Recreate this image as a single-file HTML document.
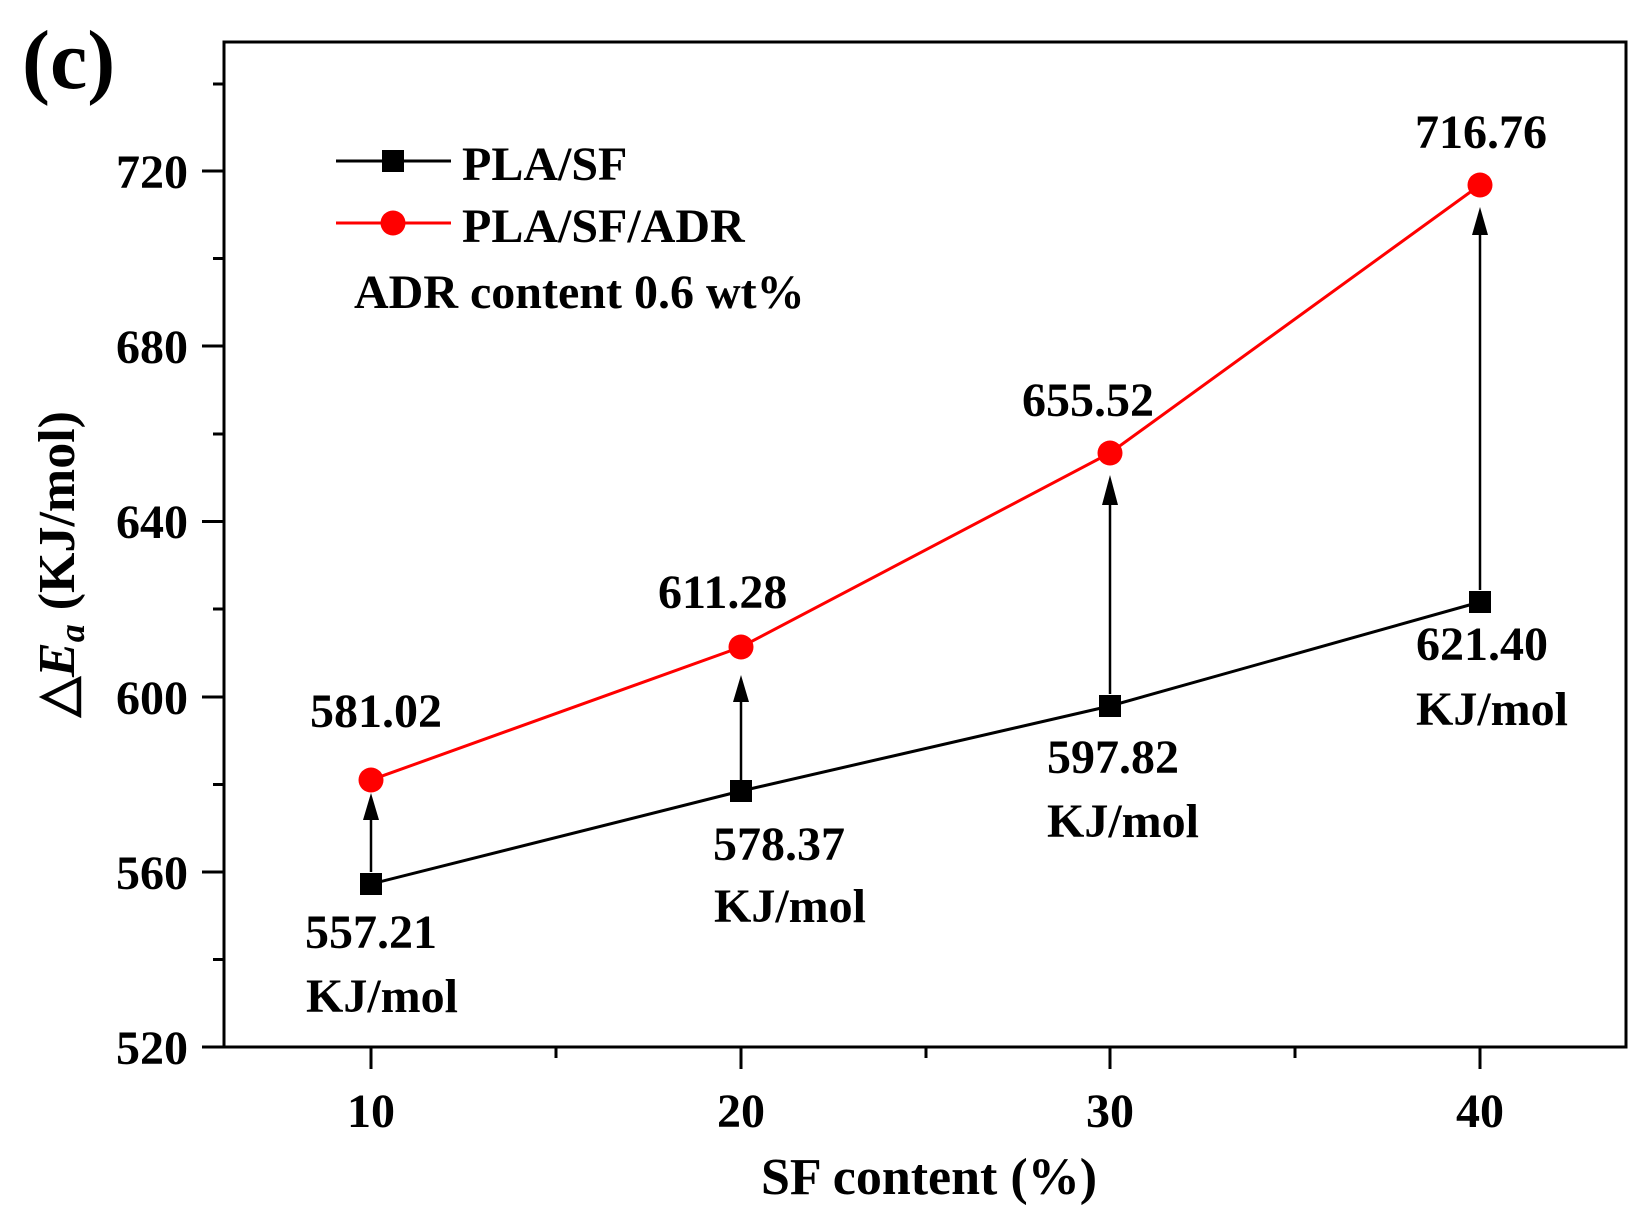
<!DOCTYPE html>
<html><head><meta charset="utf-8"><style>
html,body{margin:0;padding:0;background:#fff;}
svg{display:block;font-family:"Liberation Serif",serif;font-weight:bold;}
</style></head><body>
<svg width="1650" height="1222" viewBox="0 0 1650 1222" xmlns="http://www.w3.org/2000/svg">
<rect width="1650" height="1222" fill="#fff"/>
<text x="22" y="88" font-size="84">(c)</text>
<rect x="224" y="42" width="1402" height="1005" fill="none" stroke="#000" stroke-width="3"/>
<g stroke="#000" stroke-width="3">
<line x1="202" y1="1047" x2="224" y2="1047"/>
<line x1="202" y1="872" x2="224" y2="872"/>
<line x1="202" y1="697" x2="224" y2="697"/>
<line x1="202" y1="521.5" x2="224" y2="521.5"/>
<line x1="202" y1="346" x2="224" y2="346"/>
<line x1="202" y1="171" x2="224" y2="171"/>
<line x1="213" y1="959.5" x2="224" y2="959.5"/>
<line x1="213" y1="784.5" x2="224" y2="784.5"/>
<line x1="213" y1="609" x2="224" y2="609"/>
<line x1="213" y1="434" x2="224" y2="434"/>
<line x1="213" y1="258.5" x2="224" y2="258.5"/>
<line x1="213" y1="84" x2="224" y2="84"/>
<line x1="371" y1="1047" x2="371" y2="1069"/>
<line x1="741" y1="1047" x2="741" y2="1069"/>
<line x1="1110" y1="1047" x2="1110" y2="1069"/>
<line x1="1480" y1="1047" x2="1480" y2="1069"/>
<line x1="556" y1="1047" x2="556" y2="1058"/>
<line x1="926" y1="1047" x2="926" y2="1058"/>
<line x1="1295" y1="1047" x2="1295" y2="1058"/>
</g>
<g font-size="48" text-anchor="end">
<text x="188" y="1064">520</text>
<text x="188" y="889">560</text>
<text x="188" y="714">600</text>
<text x="188" y="538">640</text>
<text x="188" y="363">680</text>
<text x="188" y="188">720</text>
</g>
<g font-size="48" text-anchor="middle">
<text x="371" y="1127">10</text>
<text x="741" y="1127">20</text>
<text x="1110" y="1127">30</text>
<text x="1480" y="1127">40</text>
</g>
<text x="929" y="1194" font-size="52" text-anchor="middle">SF content (%)</text>
<text transform="translate(74,564) rotate(-90)" font-size="52" text-anchor="middle">△<tspan font-style="italic">E</tspan><tspan font-style="italic" font-size="36" dy="10">a</tspan><tspan dy="-10" dx="14">(KJ/mol)</tspan></text>
<g stroke="#000" stroke-width="2.5">
<line x1="371" y1="872" x2="371" y2="815"/>
<line x1="741" y1="780" x2="741" y2="695"/>
<line x1="1110" y1="694" x2="1110" y2="500"/>
<line x1="1480" y1="590" x2="1480" y2="235"/>
</g>
<g fill="#000">
<polygon points="371,793 363,820 379,820"/>
<polygon points="741,675 733,702 749,702"/>
<polygon points="1110,475 1102,505 1118,505"/>
<polygon points="1480,207 1472,235 1488,235"/>
</g>
<polyline points="371,884 741,791 1110,706 1480,602" fill="none" stroke="#000" stroke-width="3"/>
<polyline points="371,780 741,647 1110,453 1480,185" fill="none" stroke="#f00" stroke-width="3"/>
<g fill="#000">
<rect x="360" y="873" width="22" height="22"/>
<rect x="730" y="780" width="22" height="22"/>
<rect x="1099" y="695" width="22" height="22"/>
<rect x="1469" y="591" width="22" height="22"/>
</g>
<g fill="#f00">
<circle cx="371" cy="780" r="12.5"/>
<circle cx="741" cy="647" r="12.5"/>
<circle cx="1110" cy="453" r="12.5"/>
<circle cx="1480" cy="185" r="12.5"/>
</g>
<line x1="336" y1="161" x2="451" y2="161" stroke="#000" stroke-width="3"/>
<rect x="382" y="150" width="22" height="22" fill="#000"/>
<line x1="336" y1="223" x2="451" y2="223" stroke="#f00" stroke-width="3"/>
<circle cx="393" cy="223" r="12.5" fill="#f00"/>
<g font-size="48">
<text x="462" y="180">PLA/SF</text>
<text x="462" y="242">PLA/SF/ADR</text>
<text x="354" y="308" font-size="48">ADR content 0.6 wt%</text>
</g>
<g font-size="48">
<text x="310" y="727">581.02</text>
<text x="658" y="608">611.28</text>
<text x="1022" y="416">655.52</text>
<text x="1415" y="148">716.76</text>
<text x="305" y="948">557.21</text>
<text x="306" y="1012">KJ/mol</text>
<text x="713" y="860">578.37</text>
<text x="714" y="922">KJ/mol</text>
<text x="1047" y="773">597.82</text>
<text x="1047" y="837">KJ/mol</text>
<text x="1416" y="660">621.40</text>
<text x="1416" y="725">KJ/mol</text>
</g>
</svg>
</body></html>
